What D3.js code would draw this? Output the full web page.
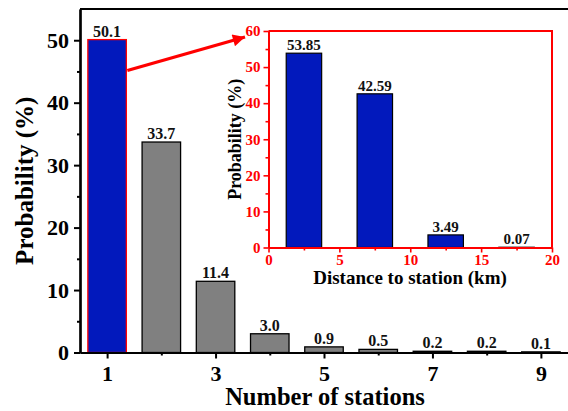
<!DOCTYPE html>
<html>
<head>
<meta charset="utf-8">
<script src="https://cdn.jsdelivr.net/npm/d3@7"></script>
<style>
  body { margin: 0; background: #fff; }
  svg text { font-family: "Liberation Serif", "Times New Roman", serif; font-weight: bold; }
</style>
</head>
<body>
<div id="chart"></div>
<script>
// Main chart data
const stations = [1, 2, 3, 4, 5, 6, 7, 8, 9];
const probs = [50.1, 33.7, 11.4, 3.0, 0.9, 0.5, 0.2, 0.2, 0.1];
const probLabels = ["50.1", "33.7", "11.4", "3.0", "0.9", "0.5", "0.2", "0.2", "0.1"];
const mainXTicks = [1, 3, 5, 7, 9];
const mainYTicks = [0, 10, 20, 30, 40, 50];

// Inset data
const distCenters = [2.5, 7.5, 12.5, 17.5];
const distProbs = [53.85, 42.59, 3.49, 0.07];
const distLabels = ["53.85", "42.59", "3.49", "0.07"];
const insetXTicks = [0, 5, 10, 15, 20];
const insetYTicks = [0, 10, 20, 30, 40, 50, 60];

const width = 568;
const height = 411;

const svg = d3.select("#chart")
    .append("svg")
    .attr("width", width)
    .attr("height", height);

const blue = "#0219bc";
const gray = "#808080";

// Main scales
const x = d3.scaleLinear().domain([0.5, 9.5]).range([80, 568]);
const y = d3.scaleLinear().domain([0, 55]).range([352.5, 9]);
const barW = x(1.71) - x(1);

// Main bars
svg.selectAll("rect.bar")
    .data(stations)
    .join("rect")
    .attr("class", "bar")
    .attr("x", (d) => x(d) - barW / 2)
    .attr("y", (d, i) => y(probs[i]))
    .attr("width", barW)
    .attr("height", (d, i) => y(0) - y(probs[i]))
    .attr("fill", (d, i) => i === 0 ? blue : gray)
    .attr("stroke", (d, i) => i === 0 ? "#ff0000" : "#000")
    .attr("stroke-width", 1.3);

svg.selectAll("text.val")
    .data(stations)
    .join("text")
    .attr("class", "val")
    .attr("x", (d) => x(d))
    .attr("y", (d, i) => y(probs[i]) - 3)
    .attr("text-anchor", "middle")
    .attr("font-size", 16)
    .attr("fill", "#111")
    .text((d, i) => probLabels[i]);

// Main axes
const xAxis = svg.append("g")
    .attr("transform", `translate(0,${y(0)})`)
    .call(d3.axisBottom(x).tickValues(mainXTicks).tickFormat(d3.format("d")).tickSize(6).tickSizeOuter(0).tickPadding(7));
svg.append("g")
    .attr("transform", `translate(0,${y(0)})`)
    .call(d3.axisBottom(x).tickValues([2, 4, 6, 8]).tickFormat("").tickSize(3).tickSizeOuter(0));

const yAxis = svg.append("g")
    .attr("transform", `translate(${x.range()[0]},0)`)
    .call(d3.axisLeft(y).tickValues(mainYTicks).tickSize(6).tickSizeOuter(0).tickPadding(5));
svg.append("g")
    .attr("transform", `translate(${x.range()[0]},0)`)
    .call(d3.axisLeft(y).tickValues([5, 15, 25, 35, 45]).tickFormat("").tickSize(3).tickSizeOuter(0));

svg.selectAll(".domain").attr("stroke", "#000").attr("stroke-width", 2.2);
svg.selectAll(".tick line").attr("stroke", "#000").attr("stroke-width", 2);
xAxis.selectAll("text").attr("font-size", 22).attr("fill", "#000");
yAxis.selectAll("text").attr("font-size", 22).attr("fill", "#000");

// Top spine of main plot
svg.append("line")
    .attr("x1", x.range()[0]).attr("x2", width)
    .attr("y1", y(55)).attr("y2", y(55))
    .attr("stroke", "#000").attr("stroke-width", 2.2);

svg.append("text")
    .attr("x", 325)
    .attr("y", 405)
    .attr("text-anchor", "middle")
    .attr("font-size", 24.5)
    .attr("fill", "#000")
    .text("Number of stations");

svg.append("text")
    .attr("transform", `translate(33,${(y(0) + y(55)) / 2}) rotate(-90)`)
    .attr("text-anchor", "middle")
    .attr("font-size", 25)
    .attr("fill", "#000")
    .text("Probability (%)");

// Inset
const xi = d3.scaleLinear().domain([0, 20]).range([268.5, 552]);
const yi = d3.scaleLinear().domain([0, 60]).range([247.5, 31]);
const inset = svg.append("g");
const barWi = xi(2.5) - xi(0);

inset.append("rect")
    .attr("x", xi(0)).attr("y", yi(60))
    .attr("width", xi(20) - xi(0)).attr("height", yi(0) - yi(60))
    .attr("fill", "#fff");

inset.selectAll("rect.ibar")
    .data(distCenters)
    .join("rect")
    .attr("class", "ibar")
    .attr("x", (d) => xi(d) - barWi / 2)
    .attr("y", (d, i) => yi(distProbs[i]))
    .attr("width", barWi)
    .attr("height", (d, i) => yi(0) - yi(distProbs[i]))
    .attr("fill", blue)
    .attr("stroke", "#000")
    .attr("stroke-width", 1.2);

inset.selectAll("text.ival")
    .data(distCenters)
    .join("text")
    .attr("class", "ival")
    .attr("x", (d) => xi(d))
    .attr("y", (d, i) => yi(distProbs[i]) - 3)
    .attr("text-anchor", "middle")
    .attr("font-size", 15)
    .attr("fill", "#111")
    .text((d, i) => distLabels[i]);

const xiAxis = inset.append("g")
    .attr("transform", `translate(0,${yi(0)})`)
    .call(d3.axisBottom(xi).tickValues(insetXTicks).tickSize(5).tickSizeOuter(0).tickPadding(2));
inset.append("g")
    .attr("transform", `translate(0,${yi(0)})`)
    .call(d3.axisBottom(xi).tickValues([2.5, 7.5, 12.5, 17.5]).tickFormat("").tickSize(3).tickSizeOuter(0));
const yiAxis = inset.append("g")
    .attr("transform", `translate(${xi(0)},0)`)
    .call(d3.axisLeft(yi).tickValues(insetYTicks).tickSize(5).tickSizeOuter(0).tickPadding(3));
inset.append("g")
    .attr("transform", `translate(${xi(0)},0)`)
    .call(d3.axisLeft(yi).tickValues([5, 15, 25, 35, 45, 55]).tickFormat("").tickSize(3).tickSizeOuter(0));

inset.selectAll(".domain").attr("stroke", "#ff0000").attr("stroke-width", 2);
inset.selectAll(".tick line").attr("stroke", "#ff0000").attr("stroke-width", 1.6);
xiAxis.selectAll("text").attr("font-size", 15).attr("fill", "#ff0000");
yiAxis.selectAll("text").attr("font-size", 15).attr("fill", "#ff0000");

// Inset top and right spines
inset.append("path")
    .attr("d", `M${xi(0)},${yi(60)}H${xi(20)}V${yi(0)}`)
    .attr("fill", "none")
    .attr("stroke", "#ff0000")
    .attr("stroke-width", 2);

inset.append("text")
    .attr("x", 410)
    .attr("y", 284)
    .attr("text-anchor", "middle")
    .attr("font-size", 19)
    .attr("fill", "#000")
    .text("Distance to station (km)");

inset.append("text")
    .attr("transform", `translate(241,${(yi(0) + yi(60)) / 2}) rotate(-90)`)
    .attr("text-anchor", "middle")
    .attr("font-size", 18)
    .attr("fill", "#000")
    .text("Probability (%)");

// Arrow from main bar 1 to inset
svg.append("defs").append("marker")
    .attr("id", "head")
    .attr("viewBox", "0 0 10 10")
    .attr("refX", 10).attr("refY", 5)
    .attr("markerWidth", 5).attr("markerHeight", 3.8)
    .attr("markerUnits", "strokeWidth")
    .attr("orient", "auto")
    .append("path")
    .attr("d", "M0,0L10,5L0,10Z")
    .attr("fill", "#ff0000");

svg.append("line")
    .attr("x1", x(1) + barW / 2 + 1).attr("y1", 70.5)
    .attr("x2", 245).attr("y2", 37)
    .attr("stroke", "#ff0000")
    .attr("stroke-width", 3.2)
    .attr("marker-end", "url(#head)");
</script>
</body>
</html>
